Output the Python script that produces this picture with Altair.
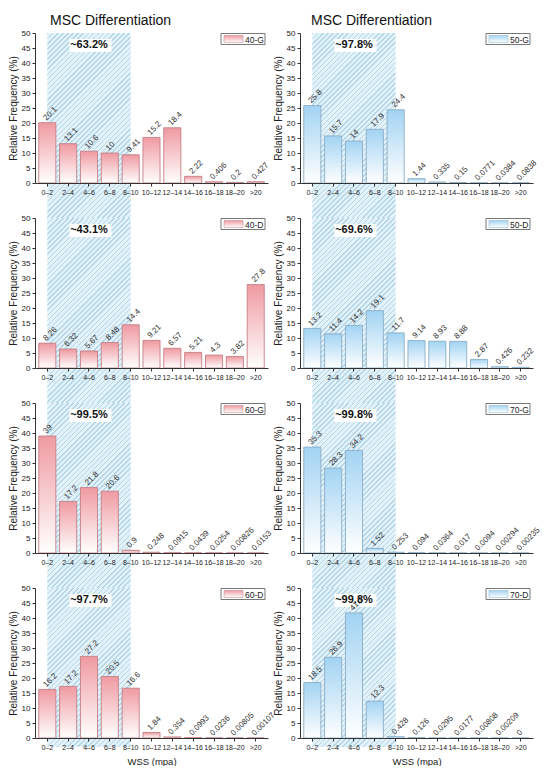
import altair as alt
import pandas as pd

# ---------------- data ----------------
cats = ["0–2", "2–4", "4–6", "6–8", "8–10", "10–12", "12–14", "14–16", "16–18", "18–20", ">20"]

v_40G = [20.1, 13.1, 10.6, 10, 9.41, 15.2, 18.4, 2.22, 0.406, 0.2, 0.427]
v_50G = [25.8, 15.7, 14, 17.9, 24.4, 1.44, 0.335, 0.15, 0.0771, 0.0384, 0.0838]
v_40D = [8.26, 6.32, 5.67, 8.48, 14.4, 9.21, 6.57, 5.21, 4.3, 3.82, 27.8]
v_50D = [13.2, 11.4, 14.2, 19.1, 11.7, 9.14, 8.93, 8.88, 2.87, 0.426, 0.232]
v_60G = [39, 17.2, 21.8, 20.6, 0.9, 0.248, 0.0915, 0.0439, 0.0254, 0.00826, 0.0153]
v_70G = [35.3, 28.3, 34.2, 1.52, 0.253, 0.094, 0.0364, 0.017, 0.0094, 0.00294, 0.00235]
v_60D = [16.2, 17.2, 27.2, 20.5, 16.6, 1.84, 0.354, 0.0993, 0.0236, 0.00805, 0.00107]
v_70D = [18.5, 26.9, 41.7, 12.3, 0.428, 0.126, 0.0295, 0.0177, 0.00808, 0.00209, 0]

names = ["40-G", "50-G", "40-D", "50-D", "60-G", "70-G", "60-D", "70-D"]
series = [v_40G, v_50G, v_40D, v_50D, v_60G, v_70G, v_60D, v_70D]
percents = ["~63.2%", "~97.8%", "~43.1%", "~69.6%", "~99.5%", "~99.8%", "~97.7%", "~99.8%"]
hatch_lo, hatch_hi, hatch_mid = "0–2", "8–10", "4–6"

title_text = "MSC Differentiation"
y_title = "Relative Frequency (%)"
x_title = "WSS (mpa)"

# ---------------- layout / style ----------------
W, H = 233, 150
GAP_V, GAP_H = 35, 32
P_IN, P_OUT = 0.18, 0.18
STEP = W / (len(cats) - P_IN + 2 * P_OUT)
FONT = "Liberation Sans"

PINK = dict(top="#ef9aa1", bottom="#ffffff", stroke="#c47f86")
BLUE = dict(top="#a2d3f3", bottom="#ffffff", stroke="#8aaec6")


def vgrad(top, bottom):
    return alt.Gradient(
        gradient="linear",
        stops=[alt.GradientStop(color=top, offset=0), alt.GradientStop(color=bottom, offset=1)],
        x1=0, x2=0, y1=0, y2=1,
    )


def hatch(w, h, period=3.6, line=1.1, bg="#e3f1f8", fg="#b3d6e9"):
    L = (w + h) / 2 ** 0.5
    stops = []
    i = 0
    while i * period < L:
        s = i * period / L
        e = min((i * period + line) / L, 1)
        n = min((i + 1) * period / L, 1)
        stops += [
            alt.GradientStop(color=fg, offset=s),
            alt.GradientStop(color=fg, offset=e),
            alt.GradientStop(color=bg, offset=e),
            alt.GradientStop(color=bg, offset=n),
        ]
        i += 1
    k = (w + h) / (w * w + h * h)
    return alt.Gradient(gradient="linear", stops=stops, x1=0, y1=0, x2=k * w, y2=k * h)


def panel(idx):
    name, vals, pct = names[idx], series[idx], percents[idx]
    col = PINK if idx % 2 == 0 else BLUE
    top_row = idx < 2
    bottom_row = idx >= 6

    df = pd.DataFrame({"cat": cats, "val": vals, "label": [f"{v:g}" for v in vals]})
    one = pd.DataFrame({"cat": [hatch_lo], "cat2": [hatch_hi]})
    ann = pd.DataFrame({"cat": [hatch_mid], "txt": [pct]})

    xs = alt.Scale(domain=cats, paddingInner=P_IN, paddingOuter=P_OUT)
    ys = alt.Scale(domain=[0, 50], nice=False, zero=True)
    xaxis = alt.Axis(
        title=x_title if bottom_row else None,
        labelAngle=0, labelFontSize=7, labelOverlap=False, labelPadding=2,
        labelBound=False, labelFlush=False, tickSize=3, titleFontSize=9.5,
        titleFontWeight="normal", titlePadding=6, zindex=1,
    )
    yaxis = alt.Axis(
        title=y_title, values=list(range(0, 51, 5)), labelFontSize=8, tickSize=3,
        titleFontSize=10, titleFontWeight="normal", titlePadding=3, zindex=1,
    )
    X = alt.X("cat:N", scale=xs, axis=xaxis)

    hh = H + (9 if bottom_row else GAP_V)
    hatch_layer = alt.Chart(one).mark_rect(fill=hatch(4 * STEP, hh), strokeWidth=0).encode(
        x=alt.X("cat:N", scale=xs, axis=xaxis, bandPosition=0.5),
        x2=alt.X2("cat2", bandPosition=0.5),
        y=alt.value(0),
        y2=alt.value(hh),
    )
    box = alt.Chart(ann).mark_point(
        shape="M-1,-0.31L1,-0.31L1,0.31L-1,0.31Z", filled=True, fill="white",
        opacity=1, size=42 * 42, strokeWidth=0, xOffset=1.5,
    ).encode(x=X, y=alt.value(12.5))
    ann_text = alt.Chart(ann).mark_text(
        fontSize=11, fontWeight="bold", color="#111", align="center", baseline="middle"
    ).encode(x=X, y=alt.value(11.5), text="txt:N")

    bars = alt.Chart(df).mark_bar(
        fill=vgrad(col["top"], col["bottom"]), stroke=col["stroke"], strokeWidth=0.9
    ).encode(x=X, y=alt.Y("val:Q", scale=ys, axis=yaxis))
    labels = alt.Chart(df).mark_text(
        angle=315, align="left", baseline="alphabetic", fontSize=8, color="#333",
        xOffset=-1, yOffset=-2,
    ).encode(x=X, y=alt.Y("val:Q", scale=ys, axis=yaxis), text="label:N")

    leg_box = alt.Chart(one).mark_rect(fill="white", stroke="#555", strokeWidth=0.8).encode(
        x=alt.value(W - 47), x2=alt.value(W - 3), y=alt.value(0.5), y2=alt.value(11.5)
    )
    leg_sw = alt.Chart(one).mark_rect(fill=vgrad(col["top"], col["bottom"]), stroke=col["stroke"], strokeWidth=0.5).encode(
        x=alt.value(W - 44), x2=alt.value(W - 25), y=alt.value(2.5), y2=alt.value(9.5)
    )
    leg_txt = alt.Chart(one).mark_text(fontSize=8.5, align="left", baseline="middle", color="#222").encode(
        x=alt.value(W - 23), y=alt.value(6.5), text=alt.value(name)
    )

    layers = [hatch_layer, box, ann_text, bars, labels, leg_box, leg_sw, leg_txt]
    if top_row:
        ttl = alt.Chart(one).mark_text(
            text=title_text, fontSize=14, color="#111", align="left", baseline="alphabetic"
        ).encode(x=alt.value(15 if idx == 0 else 11), y=alt.value(-8))
        layers.append(ttl)
    return alt.layer(*layers).properties(width=W, height=H)


chart = alt.concat(
    *[panel(i) for i in range(8)],
    columns=2,
    spacing=alt.RowColnumber(row=GAP_V, column=GAP_H),
    bounds="flush",
).properties(
    padding={"left": 0, "top": 6, "right": 0, "bottom": 0}
).configure(font=FONT).configure_view(stroke=None).configure_axis(
    grid=False, domainColor="#333", tickColor="#333", labelColor="#222",
    titleColor="#222", domainWidth=1,
)

chart.save("out.html", embed_options={"renderer": "svg", "actions": False})
